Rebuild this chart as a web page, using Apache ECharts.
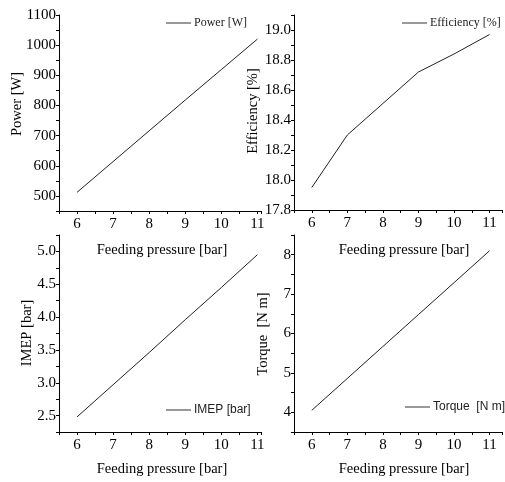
<!DOCTYPE html>
<html>
<head>
<meta charset="utf-8">
<script src="https://cdn.jsdelivr.net/npm/echarts@6/dist/echarts.min.js"></script>
<style>
html,body{margin:0;padding:0;background:#fff;}
#chart{width:505px;height:482px;}
</style>
</head>
<body>
<div id="chart"></div>
<script>
// Engine performance against feeding pressure
const pressure = [6, 7, 8, 9, 10, 11];
const power = [512, 614, 716, 818, 919, 1020];          // W
const efficiency = [17.95, 18.30, 18.51, 18.72, 18.84, 18.97]; // %
const imep = [2.48, 2.97, 3.46, 3.96, 4.45, 4.95];      // bar
const torque = [4.05, 4.86, 5.67, 6.48, 7.29, 8.10];    // N m

const xTitle = 'Feeding pressure [bar]';
const serif = '"Liberation Serif", "DejaVu Serif", serif';
const sans = '"Liberation Sans", Arial, sans-serif';

const pairs = (ys) => pressure.map((x, i) => [x, ys[i]]);

const grids = [
  { left: 59, top: 15, width: 202, height: 196 },
  { left: 294, top: 15, width: 211, height: 195 },
  { left: 59, top: 235, width: 202, height: 197 },
  { left: 294, top: 235, width: 211, height: 197 }
];

function xAxis(gi, max) {
  return {
    type: 'value', gridIndex: gi, min: 5.5, max: max, interval: 0.5,
    axisLine: { lineStyle: { color: '#000', width: 1 } },
    axisTick: { length: 3, lineStyle: { color: '#000' } },
    splitLine: { show: false },
    axisLabel: {
      color: '#000', fontFamily: serif, fontSize: 15, margin: 6,
      formatter: v => (Math.abs(v - Math.round(v)) < 1e-6 ? String(Math.round(v)) : '')
    }
  };
}

function yAxis(gi, min, max, step, every, digits) {
  return {
    type: 'value', gridIndex: gi, min: min, max: max, interval: step,
    axisLine: { show: true, lineStyle: { color: '#000', width: 1 } },
    axisTick: { show: true, length: 3, lineStyle: { color: '#000' } },
    splitLine: { show: false },
    axisLabel: {
      color: '#000', fontFamily: serif, fontSize: 15, margin: 3,
      showMaxLabel: true, showMinLabel: true,
      formatter: v => {
        const k = v / every;
        return Math.abs(k - Math.round(k)) < 1e-6 ? v.toFixed(digits) : '';
      }
    }
  };
}

function lineSeries(name, gi, ys) {
  return {
    name: name, type: 'line', xAxisIndex: gi, yAxisIndex: gi,
    data: pairs(ys), symbol: 'none', smooth: false,
    lineStyle: { color: '#222', width: 1 }, itemStyle: { color: '#222' }
  };
}

function legend(name, left, top, font, size) {
  return {
    data: [{ name: name, icon: 'rect' }], left: left, top: top,
    itemWidth: 25, itemHeight: 1, itemGap: 0,
    itemStyle: { color: '#333', borderWidth: 0 },
    lineStyle: { width: 0 },
    textStyle: { fontFamily: font, fontSize: size, color: '#222', padding: [0, 0, 0, -2] },
    padding: 0
  };
}

function label(text, x, y, rot) {
  return {
    type: 'text', x: x, y: y, rotation: rot ? Math.PI / 2 : 0,
    style: {
      text: text, fill: '#000', font: '14.5px ' + serif,
      textAlign: 'center', textVerticalAlign: 'middle'
    }
  };
}

const chart = echarts.init(document.getElementById('chart'), null, { renderer: 'canvas' });
chart.setOption({
  backgroundColor: '#fff',
  animation: false,
  grid: grids,
  xAxis: [xAxis(0, 11.1), xAxis(1, 11.35), xAxis(2, 11.1), xAxis(3, 11.35)],
  yAxis: [
    yAxis(0, 450, 1100, 50, 100, 0),
    yAxis(1, 17.8, 19.1, 0.1, 0.2, 1),
    yAxis(2, 2.25, 5.25, 0.25, 0.5, 1),
    yAxis(3, 3.5, 8.5, 0.5, 1, 0)
  ],
  legend: [
    legend('Power [W]', 166, 17, serif, 12),
    legend('Efficiency [%]', 402, 17, serif, 12),
    legend('IMEP [bar]', 166, 404, sans, 12),
    legend('Torque  [N m]', 405, 401, sans, 12)
  ],
  series: [
    lineSeries('Power [W]', 0, power),
    lineSeries('Efficiency [%]', 1, efficiency),
    lineSeries('IMEP [bar]', 2, imep),
    lineSeries('Torque  [N m]', 3, torque)
  ],
  graphic: [
    label(xTitle, 162, 250, false),
    label(xTitle, 404, 250, false),
    label(xTitle, 162, 469, false),
    label(xTitle, 404, 469, false),
    label('Power [W]', 17, 104, true),
    label('Efficiency [%]', 253, 111, true),
    label('IMEP [bar]', 27, 333, true),
    label('Torque  [N m]', 263, 334, true)
  ]
});
</script>
</body>
</html>
